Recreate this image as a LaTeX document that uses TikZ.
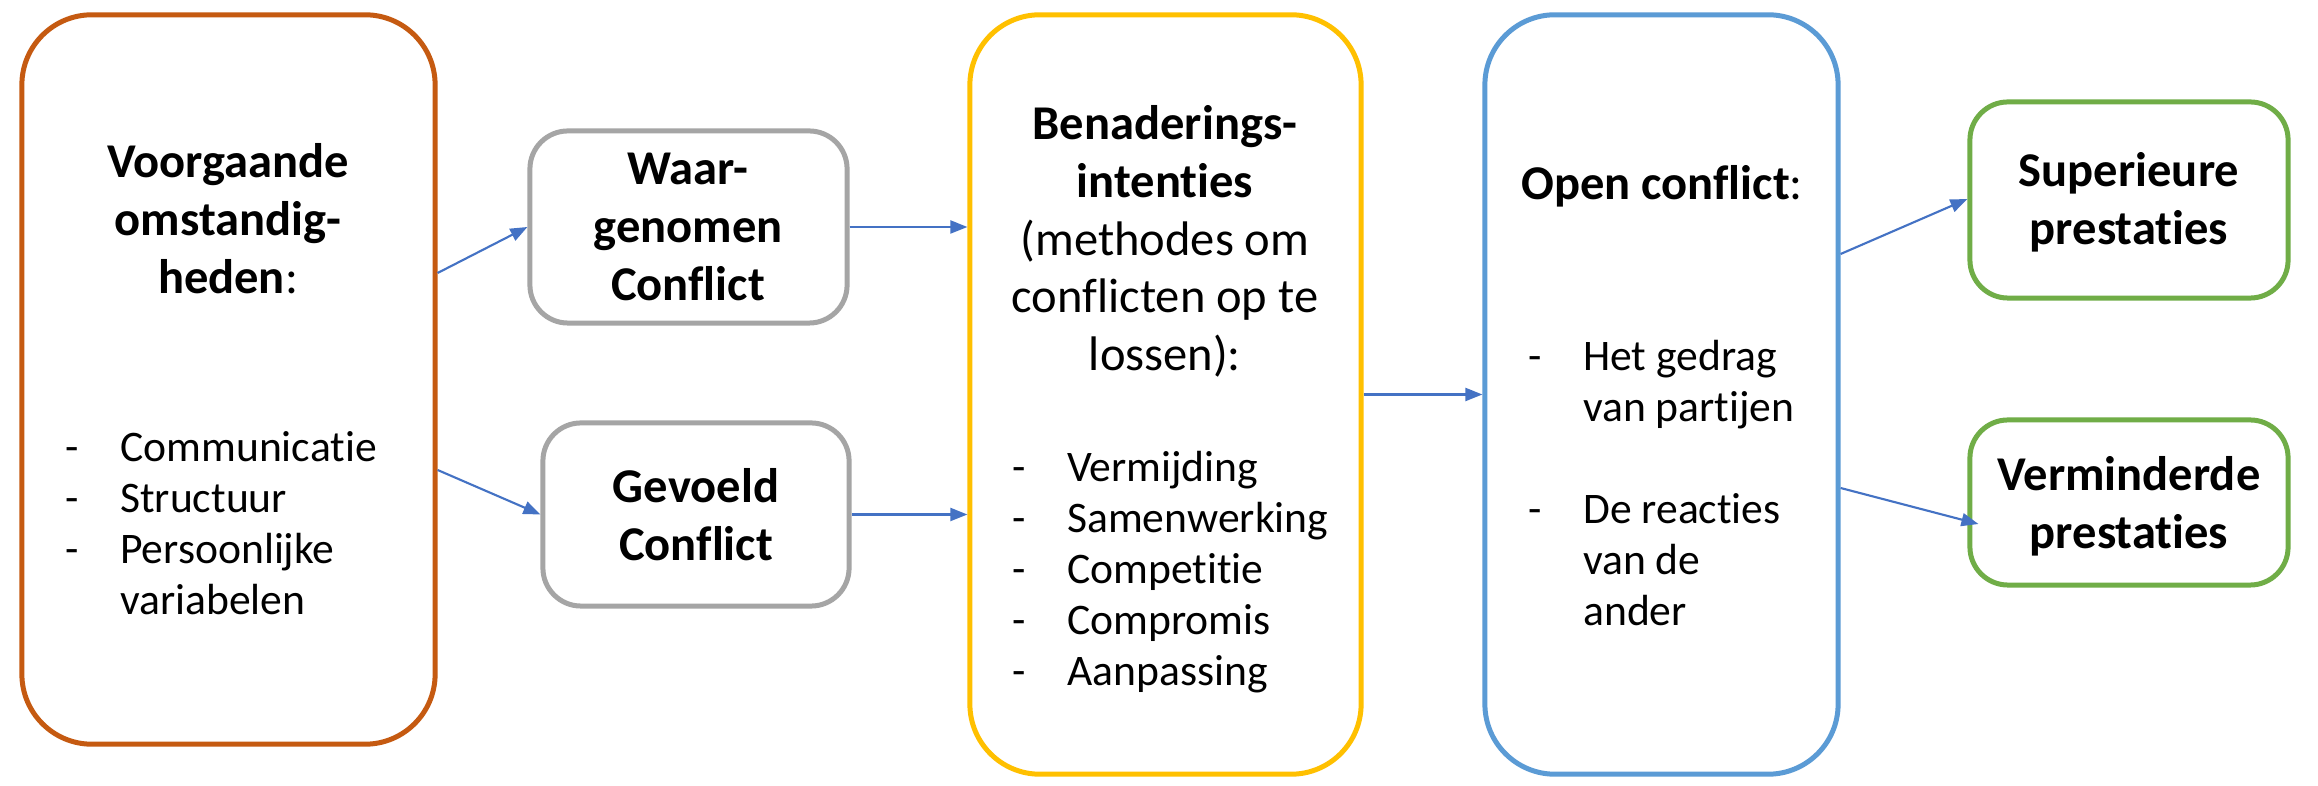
\documentclass[tikz,border=0pt]{standalone}
\usepackage{fontspec}
\setmainfont{Carlito}[Ligatures=CommonOff, RawFeature={-liga;-clig;-calt;-dlig}]
\usetikzlibrary{arrows.meta,calc}
\definecolor{corange}{HTML}{C55A11}
\definecolor{cgray}{HTML}{A5A5A5}
\definecolor{cyellow}{HTML}{FFC000}
\definecolor{cblue}{HTML}{5B9BD5}
\definecolor{cgreen}{HTML}{70AD47}
\definecolor{carrow}{HTML}{4472C4}
\newcommand\lidash{\makebox[0.545cm][l]{-}}
\newcommand\liind{\hspace*{0.545cm}}
\begin{document}
\begin{tikzpicture}[x=0.01cm,y=-0.01cm,
  bigbox/.style={draw, line width=1.42pt, rounded corners=0.7cm, inner sep=0pt, fill=white},
  smallbox/.style={draw, line width=1.42pt, rounded corners=0.38cm, inner sep=0pt, fill=white},
  hd/.style={anchor=base, inner sep=0pt, font=\fontsize{13.8}{16.36}\selectfont},
  li/.style={anchor=base west, inner sep=0pt, font=\fontsize{12.4}{14.5}\selectfont},
  conn/.style={draw=carrow, line width=0.6pt, -{Triangle[length=0.17cm,width=0.13cm]}, fill=carrow}]
\fill[white] (0,0) rectangle (2318,786);
\useasboundingbox (0,0) rectangle (2318,786);

% boxes
\node[bigbox, draw=corange, minimum width=4.13cm, minimum height=7.29cm] (vo) at (228.5,379.5) {};
\node[smallbox, draw=cgray, minimum width=3.17cm, minimum height=1.92cm] (wa) at (688.5,227) {};
\node[smallbox, draw=cgray, minimum width=3.06cm, minimum height=1.83cm] (ge) at (696,514.5) {};
\node[bigbox, draw=cyellow, minimum width=3.91cm, minimum height=7.59cm] (ben) at (1165.5,394.5) {};
\node[bigbox, draw=cblue, minimum width=3.53cm, minimum height=7.59cm] (op) at (1661.5,394.5) {};
\node[smallbox, draw=cgreen, minimum width=3.18cm, minimum height=1.96cm] (su) at (2129,200) {};
\node[smallbox, draw=cgreen, minimum width=3.18cm, minimum height=1.65cm] (ve) at (2129,502.5) {};

% texts
\node[hd] (voT) at (228,178) {\begin{tabular}[t]{@{}c@{}}\textbf{Voorgaande}\\ \textbf{omstandig-}\\ \textbf{heden}:\end{tabular}};
\node[li] (voL) at (65,462) {\begin{tabular}[t]{@{}l@{}}\lidash Communicatie\\ \lidash Structuur\\ \lidash Persoonlijke\\ \liind variabelen\end{tabular}};
\node[hd] (waT) at (688,185) {\begin{tabular}[t]{@{}c@{}}\textbf{Waar-}\\ \textbf{genomen}\\ \textbf{Conflict}\end{tabular}};
\node[hd] (geT) at (696,503) {\begin{tabular}[t]{@{}c@{}}\textbf{Gevoeld}\\ \textbf{Conflict}\end{tabular}};
\node[hd] (benT) at (1165,140) {\begin{tabular}[t]{@{}c@{}}\textbf{Benaderings-}\\ \textbf{intenties}\\ (methodes om\\ conflicten op te\\ lossen):\end{tabular}};
\node[li] (benL) at (1012,482) {\begin{tabular}[t]{@{}l@{}}\lidash Vermijding\\ \lidash Samenwerking\\ \lidash Competitie\\ \lidash Compromis\\ \lidash Aanpassing\end{tabular}};
\node[hd] (opT) at (1662,200) {\textbf{Open conflict}:};
\node[li] (opL) at (1528,371) {\begin{tabular}[t]{@{}l@{}}\lidash Het gedrag\\ \liind van partijen\\ \\ \lidash De reacties\\ \liind van de\\ \liind ander\end{tabular}};
\node[hd] (suT) at (2129,187) {\begin{tabular}[t]{@{}c@{}}\textbf{Superieure}\\ \textbf{prestaties}\end{tabular}};
\node[hd] (veT) at (2129,491) {\begin{tabular}[t]{@{}c@{}}\textbf{Verminderde}\\ \textbf{prestaties}\end{tabular}};

% connectors
\draw[conn] ($(vo.east)+(0,-106.5)$) -- (wa.west);
\draw[conn] ($(vo.east)+(0,90.5)$) -- (ge.west);
\draw[conn] (wa.east) -- (wa.east -| ben.west);
\draw[conn] (ge.east) -- (ge.east -| ben.west);
\draw[conn] (ben.east) -- (op.west);
\draw[conn] ($(op.east)+(0,-140.5)$) -- ($(su.west)+(0,-1)$);
\draw[conn] ($(op.east)+(0,93.5)$) -- ($(ve.west)+(11,21.5)$);
\end{tikzpicture}
\end{document}
